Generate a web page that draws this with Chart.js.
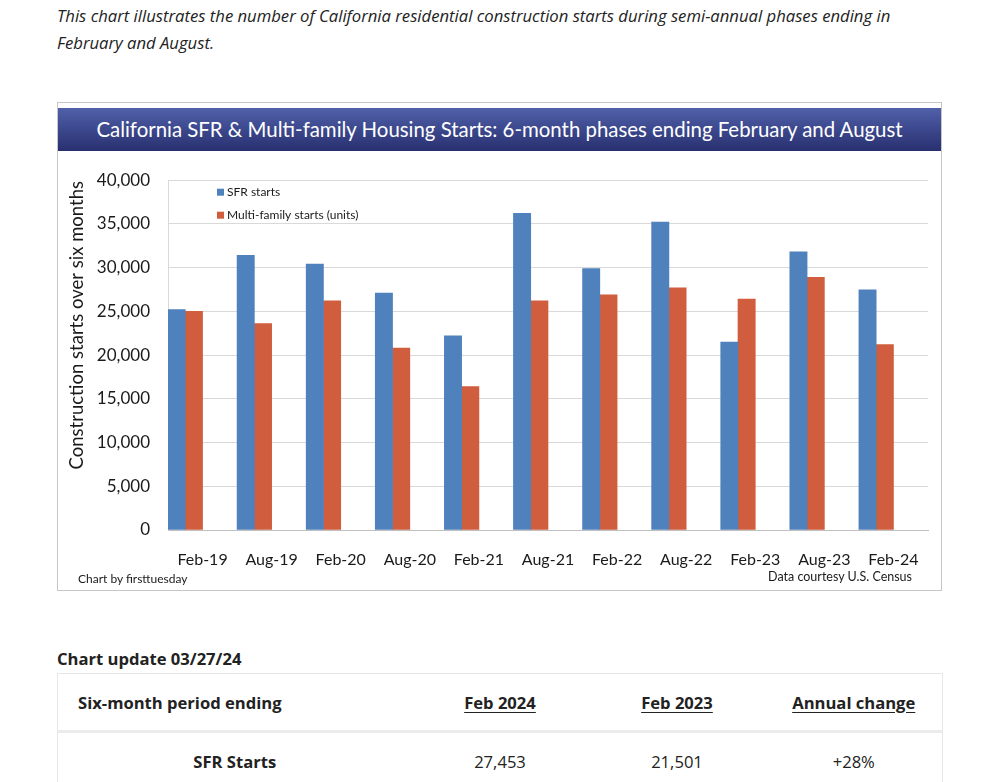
<!DOCTYPE html>
<html>
<head>
<meta charset="utf-8">
<script src="https://cdn.jsdelivr.net/npm/chart.js@4.4.1/dist/chart.umd.min.js"></script>
<style>
  body { margin: 0; background: #fff; width: 1000px; height: 782px; overflow: hidden; position: relative; font-family: "Open Sans", sans-serif; color: #222; }
  .intro { position: absolute; left: 57px; top: 2px; font-style: italic; font-size: 17px; line-height: 27px; }
  .intro span { display: inline-block; white-space: nowrap; transform: scaleX(0.98); transform-origin: 0 0; }
  .box { position: absolute; left: 57px; top: 102px; width: 883px; height: 487px; border: 1px solid #c6c6c6; }
  .titlebar { position: absolute; left: 0; top: 5px; width: 883px; height: 43px; background: linear-gradient(#5060aa, #28306f); color: #fff; font-family: Lato, sans-serif; font-size: 20.4px; line-height: 43px; text-align: center; }
  .plot { position: absolute; left: 0; top: 49px; }
  .foot { position: absolute; font-family: Lato, sans-serif; font-size: 12px; line-height: 16px; color: #1a1a1a; }
  .update { position: absolute; left: 57px; top: 647px; font-weight: bold; font-size: 16.6px; line-height: 24px; }
  table { position: absolute; left: 57px; top: 673px; width: 885px; table-layout: fixed; border-collapse: collapse; border: 1px solid #e6e6e6; font-size: 16.6px; }
  td { height: 56px; padding: 0; text-align: center; }
  tr.head td { border-bottom: 3px solid #ececec; font-weight: bold; }
  tr.head td.first { text-align: left; padding-left: 20px; }
  u { text-underline-offset: 3px; }
</style>
</head>
<body>
<div class="intro"><span>This chart illustrates the number of California residential construction starts during semi-annual phases ending in<br>February and August.</span></div>

<div class="box">
  <div class="titlebar">California SFR &amp; Multi-family Housing Starts: 6-month phases ending February and August</div>
  <canvas class="plot" id="starts" width="883" height="437"></canvas>
  <div class="foot" style="left:20px; top:468px;">Chart by firsttuesday</div>
  <div class="foot" style="right:29px; top:466px; font-size:12.5px;">Data courtesy U.S. Census</div>
</div>

<div class="update">Chart update 03/27/24</div>
<table>
  <colgroup><col style="width:354px"><col style="width:177px"><col style="width:177px"><col style="width:177px"></colgroup>
  <tr class="head">
    <td class="first">Six-month period ending</td>
    <td><u>Feb 2024</u></td>
    <td><u>Feb 2023</u></td>
    <td><u>Annual change</u></td>
  </tr>
  <tr>
    <td><b>SFR Starts</b></td>
    <td>27,453</td>
    <td>21,501</td>
    <td>+28%</td>
  </tr>
</table>

<script>
var periods = ["Feb-19", "Aug-19", "Feb-20", "Aug-20", "Feb-21", "Aug-21", "Feb-22", "Aug-22", "Feb-23", "Aug-23", "Feb-24"];
var sfrStarts = [25200, 31400, 30400, 27100, 22200, 36200, 29900, 35200, 21501, 31800, 27453];
var multiStarts = [25000, 23600, 26200, 20800, 16400, 26200, 26900, 27700, 26400, 28900, 21200];
var yMax = 40000;
var yStep = 5000;
var yTitle = "Construction starts over six months";

var textColor = '#1a1a1a';

// legend sits inside the plot, and the axis title is a bit above centre, so both are drawn here
var insideLegend = {
    id: 'insideLegend',
    afterDraw: function (chart) {
        var ctx = chart.ctx;
        var area = chart.chartArea;
        ctx.save();
        ctx.font = '12px Lato';
        ctx.textBaseline = 'middle';
        ctx.textAlign = 'left';
        var row = 0;
        chart.data.datasets.forEach(function (ds) {
            if (!ds.label) return;
            var y = area.top + 12 + row * 23;
            ctx.fillStyle = ds.backgroundColor;
            ctx.fillRect(area.left + 49, y - 3.5, 7, 7);
            ctx.fillStyle = textColor;
            ctx.fillText(ds.label, area.left + 59, y);
            row++;
        });

        ctx.translate(area.left - 91, area.top + 145);
        ctx.rotate(-Math.PI / 2);
        ctx.font = '18.5px Lato';
        ctx.textAlign = 'center';
        ctx.fillText(yTitle, 0, 0);
        ctx.restore();
    }
};

var ctx = document.getElementById("starts");

var chartGraph = new Chart(ctx, {
    type: 'bar',
    data: {
        labels: periods,
        datasets: [
            {
                label: "SFR starts",
                data: sfrStarts,
                backgroundColor: '#4f81bd'
            },
            {
                label: "Multi-family starts (units)",
                data: multiStarts,
                backgroundColor: '#d05d3d'
            },
            // two empty series, as in the original sheet, keep the bars in the left half of each slot
            { label: '', data: [] },
            { label: '', data: [] }
        ]
    },
    options: {
        responsive: false,
        devicePixelRatio: 1,
        animation: false,
        categoryPercentage: 1,
        barPercentage: 1,
        layout: {
            padding: { left: 0, top: 26, right: 13, bottom: 0 }
        },
        plugins: {
            legend: { display: false },
            tooltip: { enabled: false }
        },
        scales: {
            x: {
                grid: { display: false },
                border: { display: true, color: '#bfbfbf', width: 1 },
                ticks: {
                    color: textColor,
                    font: { family: 'Lato', size: 16 },
                    padding: 12,
                    maxRotation: 0
                },
                afterFit: function (scale) { scale.height = 59; }
            },
            y: {
                min: 0,
                max: yMax,
                grid: { color: '#d9d9d9', drawTicks: false },
                border: { display: true, color: '#d9d9d9' },
                ticks: {
                    stepSize: yStep,
                    color: textColor,
                    font: { family: 'Lato', size: 17 },
                    padding: 18
                },
                afterFit: function (scale) { scale.width = 110; }
            }
        }
    },
    plugins: [insideLegend]
});
</script>
</body>
</html>
